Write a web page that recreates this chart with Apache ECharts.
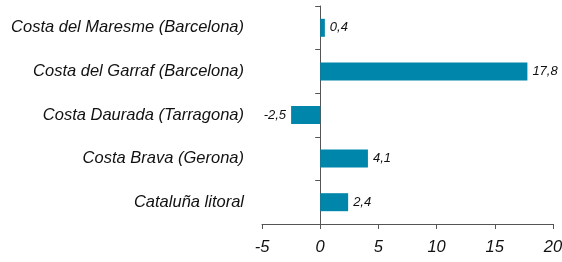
<!DOCTYPE html>
<html>
<head>
<meta charset="utf-8">
<script src="https://cdn.jsdelivr.net/npm/echarts@6/dist/echarts.min.js"></script>
<style>
  html, body { margin: 0; padding: 0; background: #fff; }
  #main { width: 562px; height: 262px; }
</style>
</head>
<body>
<div id="main"></div>
<script>
// categories listed bottom to top (ECharts category y axis starts at the bottom)
var categories = ['Cataluña litoral', 'Costa Brava (Gerona)', 'Costa Daurada (Tarragona)', 'Costa del Garraf (Barcelona)', 'Costa del Maresme (Barcelona)']
var values = [2.4, 4.1, -2.5, 17.8, 0.4]
var xMin = -5
var xMax = 20
var xStep = 5

var barData = values.map(function (v) {
    return {
        value: v,
        label: { position: v < 0 ? 'left' : 'right' }
    }
})

var chart = echarts.init(document.getElementById('main'))
chart.setOption({
    animation: false,
    textStyle: { fontFamily: 'Liberation Sans, Arial, sans-serif' },
    grid: { left: 262, right: 9, top: 6, bottom: 38, containLabel: false, outerBoundsMode: 'none' },
    xAxis: {
        type: 'value',
        min: xMin,
        max: xMax,
        interval: xStep,
        splitLine: { show: false },
        axisLine: { show: true, lineStyle: { color: '#555', width: 1 } },
        axisTick: { show: true, length: 5, lineStyle: { color: '#555' } },
        axisLabel: {
            color: '#111',
            fontSize: 16.5,
            fontStyle: 'italic',
            margin: 15
        }
    },
    yAxis: {
        type: 'category',
        data: categories,
        axisLine: { show: true, onZero: true, lineStyle: { color: '#555', width: 1 } },
        axisTick: { show: true, length: 5, lineStyle: { color: '#555' } },
        axisLabel: {
            color: '#111',
            fontSize: 16.5,
            fontStyle: 'italic',
            margin: 18
        }
    },
    series: [{
        type: 'bar',
        data: barData,
        barWidth: 18,
        itemStyle: { color: '#0086AA' },
        label: {
            show: true,
            distance: 5,
            color: '#111',
            fontSize: 13,
            fontStyle: 'italic',
            formatter: function (p) {
                return String(p.value).replace('.', ',')
            }
        }
    }]
})
</script>
</body>
</html>
